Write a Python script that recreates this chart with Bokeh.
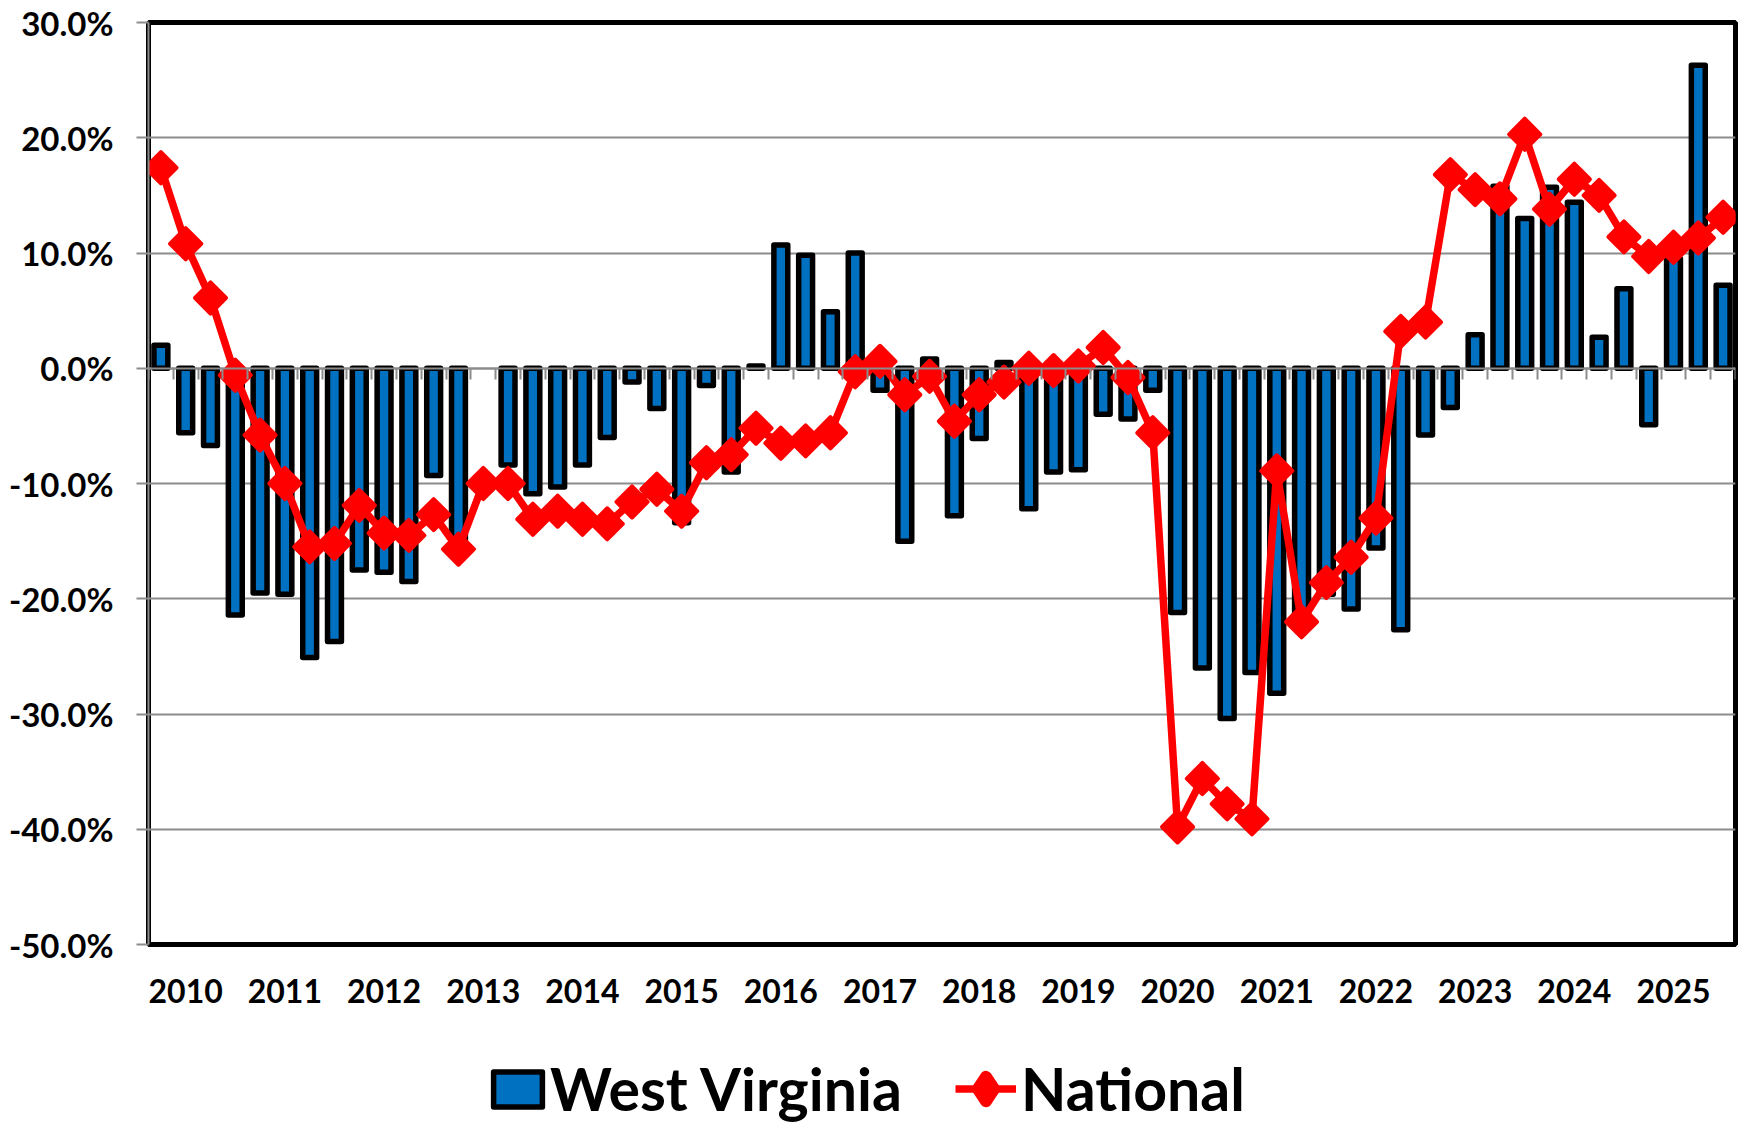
import math
from bokeh.plotting import figure
from bokeh.layouts import column
from bokeh.models import (Range1d, FixedTicker, LinearAxis, Legend, LegendItem,
                          PrintfTickFormatter, ColumnDataSource)
from bokeh.embed import file_html
from bokeh.resources import INLINE

NAN = float("nan")

# Quarterly categories: 2009Q4 .. 2025Q3
quarters = ["2009Q4"] + [f"{y}Q{q}" for y in range(2010, 2026) for q in range(1, 5)][:63]

year_labels = ["2010", "2011", "2012", "2013", "2014", "2015", "2016", "2017",
               "2018", "2019", "2020", "2021", "2022", "2023", "2024", "2025"]

west_virginia = [2.0, -5.6, -6.7, -21.4, -19.5, -19.6, -25.1, -23.7, -17.5, -17.7,
                 -18.5, -9.3, -15.0, NAN, -8.4, -10.9, -10.3, -8.4, -6.0, -1.2,
                 -3.5, -13.4, -1.5, -9.0, 0.2, 10.7, 9.8, 4.9, 10.0, -1.9,
                 -15.0, 0.8, -12.8, -6.1, 0.5, -12.2, -9.0, -8.8, -4.0, -4.4,
                 -1.9, -21.2, -26.0, -30.4, -26.4, -28.2, -22.0, -19.6, -20.9, -15.6,
                 -22.7, -5.8, -3.4, 2.9, 15.8, 13.0, 15.7, 14.4, 2.7, 6.9,
                 -4.9, 9.5, 26.3, 7.2]

national = [17.4, 10.8, 6.1, -0.6, -5.8, -10.0, -15.5, -15.2, -11.9, -14.3,
            -14.5, -12.7, -15.7, -10.0, -10.0, -13.1, -12.4, -13.1, -13.5, -11.6,
            -10.5, -12.4, -8.2, -7.5, -5.2, -6.5, -6.3, -5.6, -0.3, 0.6,
            -2.3, -0.7, -4.6, -2.3, -1.2, 0.0, -0.2, 0.2, 1.8, -0.8,
            -5.6, -39.8, -35.6, -37.8, -39.1, -8.9, -22.0, -18.6, -16.4, -13.0,
            3.2, 4.0, 16.8, 15.5, 14.7, 20.3, 13.8, 16.4, 15.0, 11.4,
            9.7, 10.5, 11.3, 13.1]

y_ticks = [-50, -40, -30, -20, -10, 0, 10, 20, 30]

n = len(quarters)
xs = list(range(n))
src = ColumnDataSource(dict(x=xs, q=quarters, wv=west_virginia, nat=national))

FONT = "Lato"
GRID = "#8c8c8c"
BLUE = "#0070C0"
RED = "#FF0000"

BAR_STYLE = dict(fill_color=BLUE, line_color="black", line_width=5.5, line_join="round")
LINE_STYLE = dict(line_color=RED, line_width=7.5, line_join="round")
MARK_STYLE = dict(marker="square", size=22, angle=math.pi / 4, fill_color=RED,
                  line_color=RED, line_width=4, line_join="round")

p = figure(width=1754, height=1010, output_backend="svg", toolbar_location=None,
           x_range=Range1d(-0.5, n - 0.5), y_range=Range1d(y_ticks[0], y_ticks[-1]),
           min_border_left=148, min_border_right=19, min_border_top=22,
           min_border_bottom=66)
p.background_fill_color = "white"
p.border_fill_color = "white"
p.outline_line_color = "black"
p.outline_line_width = 5

# y axis
p.yaxis.ticker = FixedTicker(ticks=y_ticks)
p.yaxis.formatter = PrintfTickFormatter(format="%.1f%%")
p.yaxis.major_label_text_font = FONT
p.yaxis.major_label_text_font_style = "bold"
p.yaxis.major_label_text_font_size = "33px"
p.yaxis.major_label_text_color = "black"
p.yaxis.axis_line_color = GRID
p.yaxis.axis_line_width = 2
p.yaxis.major_tick_line_color = GRID
p.yaxis.major_tick_line_width = 2
p.yaxis.major_tick_in = 0
p.yaxis.major_tick_out = 12
p.yaxis.minor_tick_line_color = None
p.yaxis.major_label_standoff = 23

p.ygrid.ticker = FixedTicker(ticks=y_ticks)
p.ygrid.grid_line_color = GRID
p.ygrid.grid_line_width = 2
p.xgrid.visible = False

# x axis with year labels at each Q1
tick_pos = [i for i, q in enumerate(quarters) if q.endswith("Q1")]
p.xaxis.ticker = FixedTicker(ticks=tick_pos)
p.xaxis.major_label_overrides = {t: lab for t, lab in zip(tick_pos, year_labels)}
p.xaxis.major_label_text_font = FONT
p.xaxis.major_label_text_font_style = "bold"
p.xaxis.major_label_text_font_size = "32px"
p.xaxis.major_label_text_color = "black"
p.xaxis.axis_line_color = None
p.xaxis.major_tick_line_color = None
p.xaxis.minor_tick_line_color = None
p.xaxis.major_tick_in = 0
p.xaxis.major_tick_out = 0
p.xaxis.major_label_standoff = 34

# category axis crossing at zero with boundary ticks
zero_axis = LinearAxis(fixed_location=0,
                       ticker=FixedTicker(ticks=[i - 0.5 for i in range(n + 1)]),
                       axis_line_color=GRID, axis_line_width=2,
                       major_tick_line_color=GRID, major_tick_line_width=2,
                       major_tick_in=0, major_tick_out=11,
                       minor_tick_line_color=None,
                       major_label_text_font_size="0px", major_label_text_alpha=0)
p.add_layout(zero_axis, "below")

bars = p.vbar(x="x", top="wv", bottom=0, width=0.56, source=src, **BAR_STYLE)
nat_line = p.line(x="x", y="nat", source=src, **LINE_STYLE)
nat_pts = p.scatter(x="x", y="nat", source=src, **MARK_STYLE)

# legend row (separate strip below the chart; frames of both plots are aligned).
# Its renderers share the data but are hidden: only their legend swatches show.
leg = figure(width=1754, height=114, output_backend="svg", toolbar_location=None,
             x_range=Range1d(-0.5, n - 0.5), y_range=Range1d(y_ticks[0], y_ticks[-1]),
             x_axis_location=None, y_axis_location=None, min_border=0)
leg.grid.visible = False
leg.outline_line_color = None
leg.background_fill_color = "white"
leg.border_fill_color = "white"
lb = leg.vbar(x="x", top="wv", bottom=0, width=0.56, source=src, visible=False, **BAR_STYLE)
ll = leg.line(x="x", y="nat", source=src, visible=False, **LINE_STYLE)
lm = leg.scatter(x="x", y="nat", source=src, visible=False, marker="diamond",
                 fill_color=RED, line_color=RED, line_width=12, line_join="round")

LEG_TEXT = dict(label_text_font=FONT, label_text_font_style="bold",
                label_text_font_size="59px", label_text_color="black",
                padding=0, margin=0, border_line_color=None,
                background_fill_alpha=0, inactive_fill_alpha=0)

legend_wv = Legend(items=[LegendItem(label="West Virginia", renderers=[lb])],
                   location=(339, 0), orientation="horizontal",
                   glyph_width=61, glyph_height=44, label_standoff=2, **LEG_TEXT)
legend_nat = Legend(items=[LegendItem(label="National", renderers=[ll, lm])],
                    location=(807, 0), orientation="horizontal",
                    glyph_width=61, glyph_height=61, label_standoff=5, **LEG_TEXT)
leg.add_layout(legend_wv)
leg.add_layout(legend_nat)

layout = column(p, leg, spacing=0)
open("out.html", "w").write(file_html(layout, INLINE))
